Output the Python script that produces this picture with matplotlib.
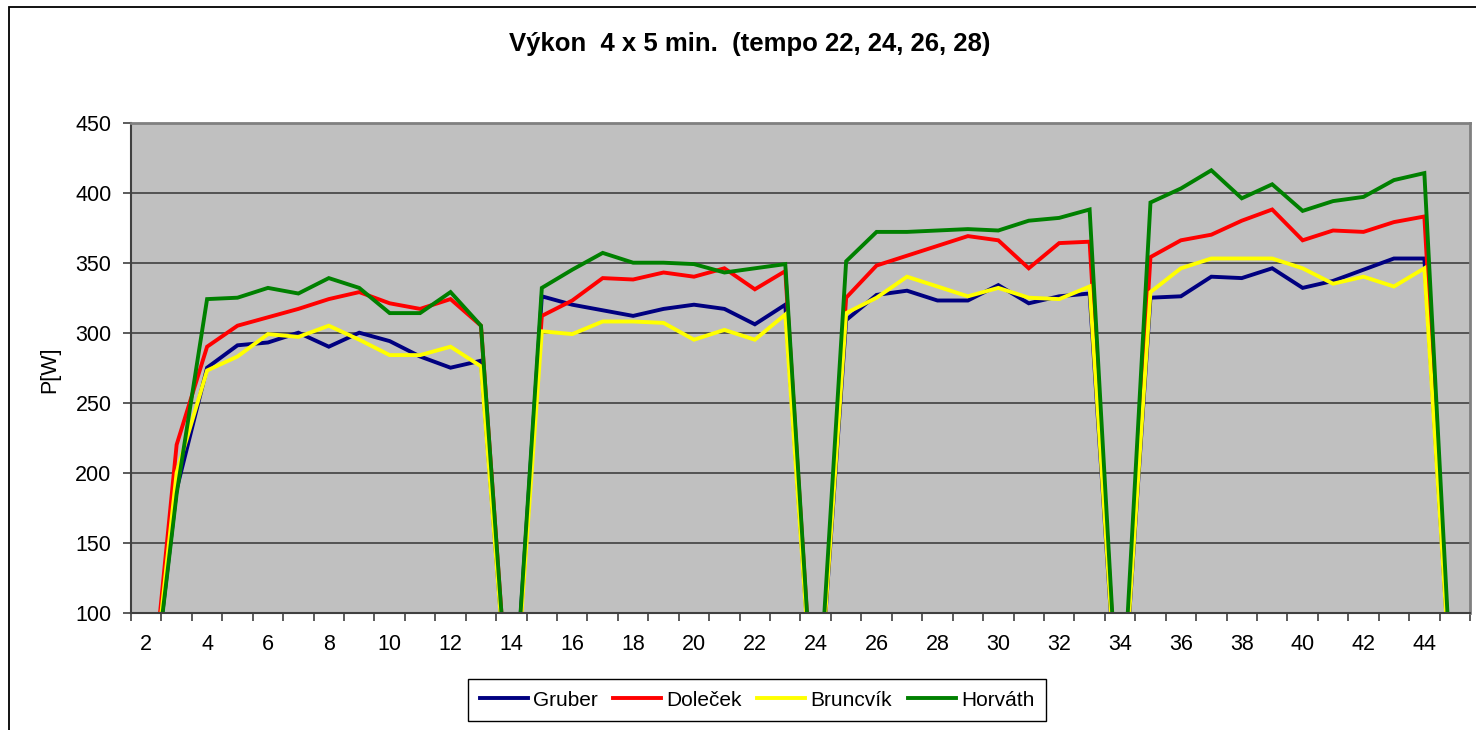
import matplotlib.pyplot as plt
from matplotlib.patches import Rectangle

plt.rcParams['font.family'] = ['Liberation Sans', 'DejaVu Sans']

# categories on the x axis (one point per category)
categories = list(range(2, 46))

gruber = [0, 188, 275, 291, 293, 300, 290, 300, 294, 283, 275, 280, 0,
          326, 320, 316, 312, 317, 320, 317, 306, 320, 0,
          309, 327, 330, 323, 323, 334, 321, 326, 328, 0,
          325, 326, 340, 339, 346, 332, 337, 345, 353, 353, 0]
dolecek = [0, 220, 290, 305, 311, 317, 324, 329, 321, 317, 324, 305, 0,
           312, 323, 339, 338, 343, 340, 346, 331, 344, 0,
           325, 348, 355, 362, 369, 366, 346, 364, 365, 0,
           354, 366, 370, 380, 388, 366, 373, 372, 379, 383, 0]
bruncvik = [0, 200, 273, 283, 299, 297, 305, 295, 284, 284, 290, 276, 0,
            301, 299, 308, 308, 307, 295, 302, 295, 313, 0,
            314, 325, 340, 333, 326, 332, 325, 324, 333, 0,
            329, 346, 353, 353, 353, 346, 335, 340, 333, 346, 0]
horvath = [0, 185, 324, 325, 332, 328, 339, 332, 314, 314, 329, 305, 0,
           332, 345, 357, 350, 350, 349, 343, 346, 349, 0,
           351, 372, 372, 373, 374, 373, 380, 382, 388, 0,
           393, 403, 416, 396, 406, 387, 394, 397, 409, 414, 0]

names = ['Gruber', 'Doleček', 'Bruncvík', 'Horváth']
colors = ['#000080', '#FF0000', '#FFFF00', '#008000']
series = [gruber, dolecek, bruncvik, horvath]

W, H = 1476, 730
fig = plt.figure(figsize=(W / 100, H / 100), dpi=100)
fig.patch.set_facecolor('white')

# outer chart border (right and bottom edges fall outside the picture)
fig.patches.append(Rectangle((9 / W, -0.1), 1.2, 0.1 + 1 - 7 / H, fill=False,
                             edgecolor='black', lw=1.3, transform=fig.transFigure))

left, right, top, bottom = 131, 1470, 122.7, 612.7
ax = fig.add_axes([left / W, 1 - bottom / H, (right - left) / W, (bottom - top) / H])
ax.set_facecolor('#C0C0C0')

lines = []
for vals, name, c in zip(series, names, colors):
    ln, = ax.plot(categories, vals, color=c, lw=2.8, label=name, solid_joinstyle='miter')
    lines.append(ln)

ax.set_xlim(categories[0] - 0.5, categories[-1] + 0.5)
ax.set_ylim(100, 450)
ax.set_yticks(range(100, 451, 50))
ax.yaxis.grid(True, color='#404040', lw=1.2)
ax.set_axisbelow(True)

# labels on every other category, tick marks between categories
ax.set_xticks([c for c in categories if c % 2 == 0 and c <= 44])
ax.set_xticks([c + 0.5 for c in [categories[0] - 1] + categories], minor=True)
ax.tick_params(axis='x', which='major', length=0, pad=15, labelsize=15.5)
ax.tick_params(axis='x', which='minor', length=6, width=1.2, color='#404040', direction='out')
ax.tick_params(axis='y', length=6, width=1.2, color='#404040', pad=8, labelsize=15.5)

for s in ['top', 'right']:
    ax.spines[s].set_color('#808080')
    ax.spines[s].set_linewidth(2)
for s in ['left', 'bottom']:
    ax.spines[s].set_color('#404040')
    ax.spines[s].set_linewidth(1.5)

fig.text(750 / W, 1 - 44 / H, 'Výkon  4 x 5 min.  (tempo 22, 24, 26, 28)',
         ha='center', va='center', fontsize=18.5, fontweight='bold')
fig.text(50 / W, 1 - 370 / H, 'P[W]', rotation=90, ha='center', va='center', fontsize=15.5)

leg = fig.legend(handles=lines, loc='center', bbox_to_anchor=(757 / W, 1 - 700 / H),
                 ncol=4, fontsize=15, frameon=True, fancybox=False, framealpha=1,
                 edgecolor='black', handlelength=2.3, handletextpad=0.25,
                 columnspacing=0.75, borderpad=0.55)
leg.get_frame().set_linewidth(1.0)

fig.savefig('out.png', dpi=100)
